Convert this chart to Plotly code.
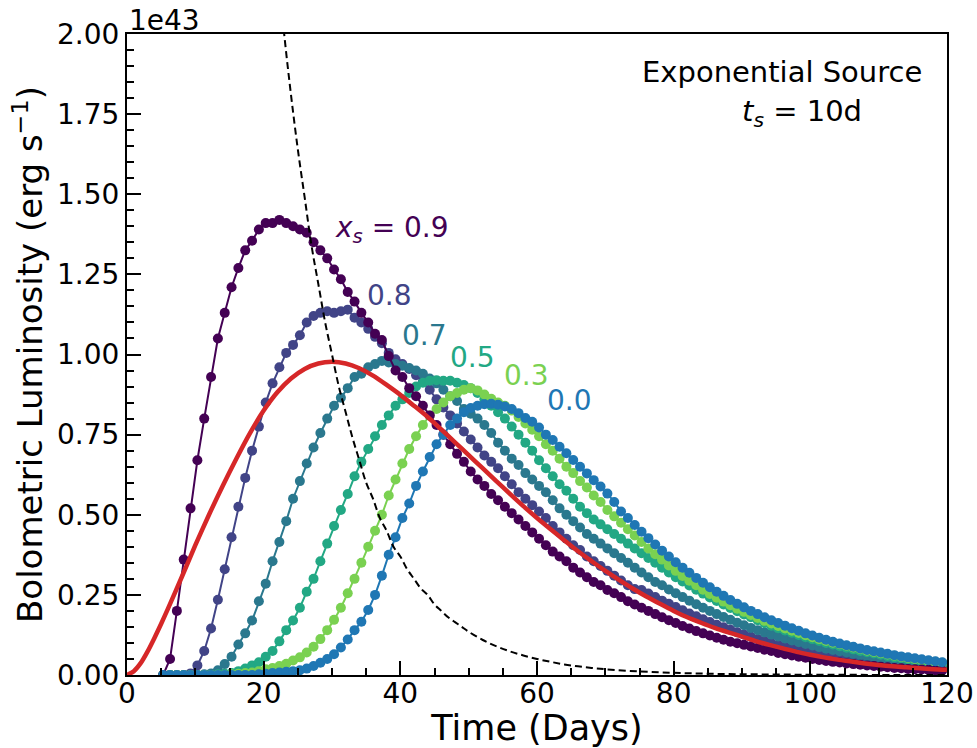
import plotly.graph_objects as go

# ---------------- data (luminosity in units of 1e43 erg/s) ----------------
# model light curves sampled once per day, first sample at day 5.3
DAY0 = 5.3
L_09 = [0.0, 0.05, 0.20, 0.36, 0.52, 0.67, 0.80, 0.93, 1.05, 1.13,
        1.21, 1.27, 1.325, 1.355, 1.39, 1.41, 1.41, 1.42, 1.41, 1.40,
        1.39, 1.38, 1.35, 1.325, 1.30, 1.265, 1.235, 1.195, 1.165, 1.13,
        1.10, 1.065, 1.045, 0.995, 0.95, 0.93, 0.895, 0.87, 0.84, 0.81,
        0.78, 0.75, 0.72, 0.69, 0.665, 0.635, 0.61, 0.59, 0.565, 0.545,
        0.525, 0.505, 0.485, 0.465, 0.445, 0.425, 0.405, 0.385, 0.37, 0.355,
        0.335, 0.32, 0.305, 0.29, 0.28, 0.265, 0.255, 0.243, 0.23, 0.22,
        0.21, 0.20, 0.19, 0.18, 0.171, 0.162, 0.153, 0.145, 0.137, 0.13,
        0.123, 0.116, 0.11, 0.104, 0.099, 0.094, 0.089, 0.084, 0.079, 0.075,
        0.069, 0.065, 0.061, 0.057, 0.054, 0.05, 0.047, 0.044, 0.041, 0.039,
        0.036, 0.034, 0.032, 0.03, 0.028, 0.026, 0.024, 0.022, 0.021, 0.019,
        0.018, 0.017, 0.016, 0.015, 0.014]
L_08 = [0.0, 0.0, 0.0, 0.0, 0.005, 0.03, 0.075, 0.145, 0.235, 0.33,
        0.43, 0.525, 0.615, 0.70, 0.775, 0.85, 0.91, 0.96, 1.005, 1.03,
        1.06, 1.10, 1.12, 1.13, 1.135, 1.13, 1.135, 1.14, 1.115, 1.10,
        1.08, 1.055, 1.035, 1.005, 0.985, 0.97, 0.955, 0.935, 0.915, 0.89,
        0.86, 0.835, 0.81, 0.785, 0.76, 0.735, 0.71, 0.685, 0.665, 0.645,
        0.62, 0.595, 0.57, 0.55, 0.53, 0.51, 0.49, 0.465, 0.445, 0.425,
        0.405, 0.39, 0.37, 0.355, 0.34, 0.325, 0.31, 0.295, 0.28, 0.268,
        0.265, 0.254, 0.243, 0.232, 0.222, 0.212, 0.202, 0.192, 0.183, 0.174,
        0.165, 0.157, 0.149, 0.141, 0.133, 0.126, 0.119, 0.112, 0.106, 0.1,
        0.094, 0.089, 0.084, 0.079, 0.074, 0.07, 0.066, 0.062, 0.058, 0.055,
        0.052, 0.049, 0.046, 0.043, 0.04, 0.038, 0.036, 0.034, 0.032, 0.03,
        0.028, 0.026, 0.025, 0.023, 0.022]
L_07 = [0.0, 0.0, 0.0, 0.0, 0.0, 0.0, 0.002, 0.005, 0.015, 0.034,
        0.057, 0.095, 0.13, 0.17, 0.23, 0.285, 0.355, 0.415, 0.48, 0.55,
        0.605, 0.66, 0.71, 0.755, 0.80, 0.84, 0.865, 0.895, 0.93, 0.94,
        0.96, 0.97, 0.98, 0.975, 0.97, 0.965, 0.958, 0.95, 0.94, 0.925,
        0.91, 0.89, 0.87, 0.855, 0.83, 0.815, 0.80, 0.78, 0.755, 0.725,
        0.70, 0.675, 0.655, 0.63, 0.61, 0.59, 0.57, 0.545, 0.52, 0.50,
        0.48, 0.46, 0.44, 0.425, 0.41, 0.395, 0.38, 0.365, 0.35, 0.335,
        0.32, 0.305, 0.29, 0.28, 0.267, 0.255, 0.243, 0.232, 0.221, 0.21,
        0.2, 0.19, 0.181, 0.172, 0.163, 0.155, 0.147, 0.14, 0.133, 0.126,
        0.12, 0.114, 0.108, 0.102, 0.097, 0.092, 0.087, 0.082, 0.078, 0.074,
        0.07, 0.066, 0.062, 0.059, 0.056, 0.053, 0.05, 0.047, 0.045, 0.042,
        0.038, 0.035, 0.033, 0.031, 0.029]
L_05 = [0.0, 0.0, 0.0, 0.0, 0.0, 0.0, 0.0, 0.0, 0.002, 0.004,
        0.006, 0.012, 0.02, 0.03, 0.04, 0.057, 0.075, 0.105, 0.14, 0.17,
        0.21, 0.26, 0.30, 0.355, 0.41, 0.465, 0.515, 0.565, 0.62, 0.665,
        0.705, 0.745, 0.78, 0.81, 0.84, 0.86, 0.88, 0.90, 0.912, 0.918,
        0.92, 0.918, 0.918, 0.912, 0.905, 0.895, 0.88, 0.86, 0.84, 0.82,
        0.80, 0.775, 0.75, 0.725, 0.70, 0.67, 0.645, 0.62, 0.595, 0.575,
        0.55, 0.525, 0.505, 0.485, 0.47, 0.455, 0.44, 0.425, 0.41, 0.395,
        0.38, 0.365, 0.35, 0.335, 0.32, 0.305, 0.292, 0.279, 0.266, 0.254,
        0.242, 0.231, 0.22, 0.209, 0.199, 0.189, 0.18, 0.171, 0.162, 0.154,
        0.146, 0.139, 0.132, 0.125, 0.118, 0.112, 0.106, 0.1, 0.095, 0.09,
        0.085, 0.08, 0.075, 0.071, 0.067, 0.063, 0.059, 0.055, 0.052, 0.049,
        0.046, 0.043, 0.04, 0.037, 0.035]
L_03 = [0.0, 0.0, 0.0, 0.0, 0.0, 0.0, 0.0, 0.0, 0.0, 0.0,
        0.002, 0.004, 0.006, 0.008, 0.012, 0.018, 0.022, 0.028, 0.035, 0.045,
        0.055, 0.07, 0.088, 0.112, 0.14, 0.172, 0.21, 0.255, 0.30, 0.35,
        0.40, 0.45, 0.50, 0.56, 0.61, 0.66, 0.705, 0.745, 0.78, 0.81,
        0.83, 0.85, 0.87, 0.88, 0.89, 0.895, 0.888, 0.875, 0.862, 0.85,
        0.84, 0.825, 0.805, 0.785, 0.765, 0.745, 0.72, 0.70, 0.675, 0.65,
        0.63, 0.605, 0.585, 0.56, 0.54, 0.515, 0.495, 0.475, 0.455, 0.435,
        0.415, 0.395, 0.377, 0.36, 0.342, 0.325, 0.309, 0.294, 0.28, 0.266,
        0.253, 0.241, 0.229, 0.218, 0.207, 0.197, 0.187, 0.178, 0.169, 0.161,
        0.153, 0.145, 0.138, 0.131, 0.124, 0.118, 0.112, 0.106, 0.101, 0.096,
        0.091, 0.086, 0.081, 0.076, 0.072, 0.068, 0.064, 0.06, 0.056, 0.053,
        0.05, 0.047, 0.044, 0.041, 0.038]
L_00 = [0.0, 0.0, 0.0, 0.0, 0.0, 0.0, 0.0, 0.0, 0.0, 0.0,
        0.0, 0.0, 0.0, 0.0, 0.002, 0.004, 0.006, 0.008, 0.01, 0.012,
        0.015, 0.02, 0.028, 0.038, 0.05, 0.065, 0.086, 0.111, 0.14, 0.166,
        0.203, 0.25, 0.31, 0.375, 0.43, 0.49, 0.535, 0.59, 0.635, 0.68,
        0.72, 0.75, 0.78, 0.80, 0.82, 0.833, 0.84, 0.845, 0.846, 0.843,
        0.838, 0.83, 0.817, 0.802, 0.79, 0.772, 0.75, 0.733, 0.712, 0.692,
        0.671, 0.65, 0.629, 0.608, 0.588, 0.566, 0.54, 0.51, 0.49, 0.468,
        0.447, 0.427, 0.407, 0.388, 0.37, 0.352, 0.335, 0.319, 0.303, 0.288,
        0.274, 0.26, 0.247, 0.234, 0.222, 0.211, 0.2, 0.19, 0.18, 0.171,
        0.162, 0.154, 0.146, 0.138, 0.13, 0.123, 0.116, 0.11, 0.104, 0.098,
        0.093, 0.088, 0.083, 0.078, 0.074, 0.07, 0.066, 0.062, 0.058, 0.055,
        0.052, 0.049, 0.046, 0.043, 0.04]

SERIES_NAMES = ["0.8", "0.7", "0.5", "0.3", "0.9", "0.0"]
SERIES_VALUES = [L_08, L_07, L_05, L_03, L_09, L_00]
SERIES_COLORS = ["#414487", "#2a788e", "#22a884", "#7ad151", "#440154", "#1f77b4"]

# smooth reference model (red)
RED_T = [0, 1, 2, 3, 4, 5, 6, 8, 10, 12, 14, 16, 18, 20, 22, 24, 26, 28, 30, 32, 34, 36, 38,
         40, 42, 44, 46, 48, 50, 52, 54, 56, 58, 60, 62, 64, 66, 68, 70, 72, 74, 76, 78,
         80, 82, 84, 86, 88, 90, 92, 94, 96, 98, 100, 102, 104, 106, 108, 110, 112, 114,
         116, 118, 120]
RED_L = [0.0, 0.012, 0.037, 0.073, 0.115, 0.16, 0.207, 0.305, 0.405, 0.50, 0.59, 0.675,
         0.755, 0.825, 0.882,
         0.925, 0.955, 0.972, 0.977, 0.972, 0.957, 0.934, 0.905, 0.874, 0.84, 0.805, 0.766,
         0.726, 0.686, 0.646, 0.606, 0.566, 0.527, 0.49, 0.455, 0.42, 0.386, 0.355, 0.325,
         0.297, 0.27, 0.245, 0.222, 0.20, 0.18, 0.163, 0.147, 0.133, 0.12, 0.106, 0.094,
         0.083, 0.072, 0.063, 0.055, 0.048, 0.042, 0.036, 0.031, 0.027, 0.024, 0.021,
         0.018, 0.016]

# exponential source (dashed)
SRC_T = [22, 23, 24, 25, 26, 27, 28, 29, 30, 31, 32, 33, 34, 35, 36, 37, 38, 39, 40,
         41, 42, 43, 44, 45, 46, 47, 48, 49, 50, 52, 54, 56, 58, 60, 62, 64, 66, 68, 70,
         75, 80, 85, 90, 95, 100, 110, 120]
SRC_L = [2.22, 2.0, 1.81, 1.64, 1.49, 1.34, 1.22, 1.10, 1.0, 0.90, 0.82, 0.74, 0.67,
         0.60, 0.55, 0.49, 0.45, 0.40, 0.37, 0.33, 0.30, 0.27, 0.25, 0.22, 0.20, 0.18,
         0.165, 0.15, 0.135, 0.11, 0.09, 0.074, 0.061, 0.05, 0.041, 0.033, 0.027, 0.022,
         0.018, 0.011, 0.0067, 0.004, 0.0025, 0.0015, 0.0009, 0.0003, 0.0001]

X_TICKS = [0, 20, 40, 60, 80, 100, 120]
Y_TICKS = [0.0, 0.25, 0.5, 0.75, 1.0, 1.25, 1.5, 1.75, 2.0]

# label positions (data coordinates) for curve labels
LABELS = [("<i>x</i><sub><i>s</i></sub> = 0.9", 30.1, 1.39, "#440154"),
          ("0.8", 34.8, 1.183, "#414487"),
          ("0.7", 39.9, 1.058, "#2a788e"),
          ("0.5", 47.0, 0.992, "#22a884"),
          ("0.3", 54.9, 0.936, "#7ad151"),
          ("0.0", 61.2, 0.858, "#1f77b4")]

FONT = "DejaVu Sans"

fig = go.Figure()
for name, vals, col in zip(SERIES_NAMES, SERIES_VALUES, SERIES_COLORS):
    t = [DAY0 + i for i in range(len(vals))]
    fig.add_trace(go.Scatter(x=t, y=vals, mode="lines+markers", name=name,
                             line=dict(color=col, width=2),
                             marker=dict(color=col, size=10)))

fig.add_trace(go.Scatter(x=RED_T, y=RED_L, mode="lines", name="model",
                         line=dict(color="#d62728", width=4.5, shape="spline", smoothing=0.8)))
fig.add_trace(go.Scatter(x=SRC_T, y=SRC_L, mode="lines", name="source",
                         line=dict(color="black", width=2, dash="7px,4px", shape="spline")))

for txt, x, y, col in LABELS:
    fig.add_annotation(x=x, y=y, text=txt, showarrow=False, xanchor="left",
                       yanchor="middle", font=dict(family=FONT, size=28, color=col))

fig.add_annotation(x=75.1, y=1.881, text="Exponential Source", showarrow=False,
                   xanchor="left", yanchor="middle", font=dict(family=FONT, size=29, color="black"))
fig.add_annotation(x=89.7, y=1.754, text="<i>t</i><sub><i>s</i></sub> = 10d", showarrow=False,
                   xanchor="left", yanchor="middle", font=dict(family=FONT, size=29, color="black"))
fig.add_annotation(x=0, y=1, xref="paper", yref="paper", text="1e43", showarrow=False,
                   xanchor="left", yanchor="bottom", yshift=-5,
                   font=dict(family=FONT, size=28, color="black"))

axis_common = dict(showgrid=False, zeroline=False, showline=True, linecolor="black",
                   linewidth=2, mirror=True, ticks="inside", ticklen=14, tickwidth=2,
                   tickcolor="black", automargin=False,
                   tickfont=dict(family=FONT, size=28, color="black"))

fig.update_layout(
    width=977, height=748,
    margin=dict(l=127, r=30, t=34, b=73),
    plot_bgcolor="white", paper_bgcolor="white",
    showlegend=False,
    xaxis=dict(range=[0, 120], tickvals=X_TICKS, ticktext=[str(v) for v in X_TICKS],
               ticklabelstandoff=-8,
               minor=dict(ticks="inside", ticklen=7, tickwidth=1.5, dtick=5, tickcolor="black"),
               title=dict(text="Time (Days)", font=dict(family=FONT, size=35, color="black"), standoff=8),
               **axis_common),
    yaxis=dict(range=[0, 2.0], tickvals=Y_TICKS, ticktext=[f"{v:.2f}" for v in Y_TICKS],
               minor=dict(ticks="inside", ticklen=7, tickwidth=1.5, dtick=0.05, tick0=0, tickcolor="black"),
               title=dict(text="Bolometric Luminosity (erg s<sup>\u22121</sup>)",
                          font=dict(family=FONT, size=34, color="black"), standoff=4),
               **axis_common),
)

fig.write_html("out.html")
